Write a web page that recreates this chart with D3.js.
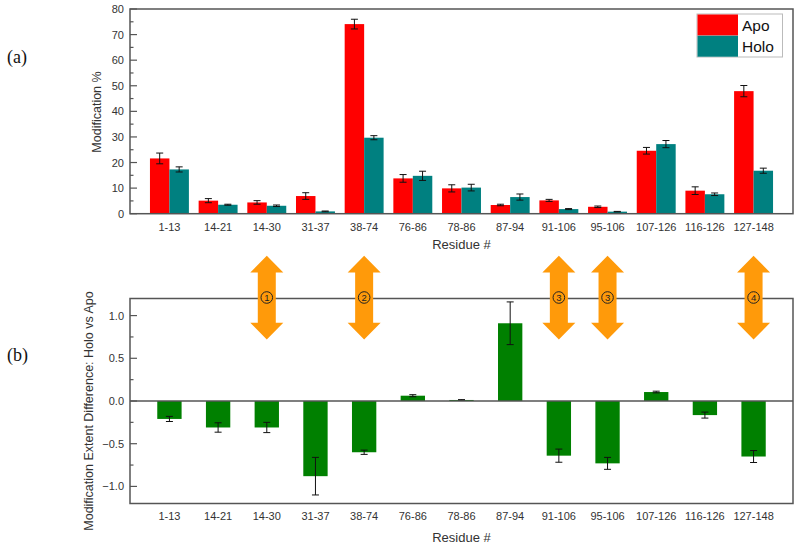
<!DOCTYPE html>
<html>
<head>
<meta charset="utf-8">
<script src="https://cdn.jsdelivr.net/npm/d3@7"></script>
<style>
  body { margin: 0; background: #fff; }
  text { font-family: "Liberation Sans", Arial, sans-serif; }
  text.panel { font-family: "Liberation Serif", "Times New Roman", serif; }
</style>
</head>
<body>
<div id="chart"></div>
<script>
// Residue ranges along both x axes
const residues = ["1-13", "14-21", "14-30", "31-37", "38-74", "76-86", "78-86",
  "87-94", "91-106", "95-106", "107-126", "116-126", "127-148"];

// (a) modification %
const apo     = [21.6, 5.1, 4.4, 6.9, 74.1, 13.8, 9.9, 3.4, 5.2, 2.7, 24.6, 9.0, 47.9];
const apoErr  = [2.1, 0.8, 0.7, 1.3, 1.9, 1.5, 1.4, 0.3, 0.4, 0.3, 1.3, 1.5, 2.2];
const holo    = [17.3, 3.5, 3.1, 0.9, 29.7, 14.8, 10.2, 6.5, 1.8, 0.8, 27.2, 7.6, 16.8];
const holoErr = [1.0, 0.2, 0.3, 0.15, 0.8, 1.8, 1.3, 1.2, 0.2, 0.1, 1.4, 0.5, 1.0];

// (b) modification extent difference, holo vs apo
const diff    = [-0.21, -0.31, -0.31, -0.88, -0.60, 0.062, 0.012, 0.91, -0.64, -0.73, 0.105, -0.165, -0.65];
const diffErr = [0.03, 0.055, 0.06, 0.22, 0.025, 0.012, 0.004, 0.25, 0.077, 0.07, 0.01, 0.035, 0.07];

// orange markers on panel (b)
const arrowResidues = ["14-30", "38-74", "91-106", "95-106", "127-148"];
const arrowLabels = ["1", "2", "3", "3", "4"];

const width = 800, height = 554;
const frameColor = "#555", tickColor = "#333";

const svg = d3.select("#chart").append("svg")
  .attr("width", width)
  .attr("height", height);

svg.append("rect").attr("width", width).attr("height", height).attr("fill", "#fff");

const x = d3.scaleBand()
  .domain(residues)
  .range([130, 793])
  .paddingInner(0.2)
  .paddingOuter(0.41);

const series = d3.scaleBand()
  .domain(["Apo", "Holo"])
  .range([0, x.bandwidth()]);

const colors = { Apo: "#ff0000", Holo: "#008080" };

// draw frame, inward ticks, and labels for one panel
function drawAxes(y, major, minor, fmt, labelY) {
  const [y0, y1] = y.range();
  svg.append("rect")
    .attr("x", 130).attr("y", y1)
    .attr("width", 793 - 130).attr("height", y0 - y1)
    .attr("fill", "none").attr("stroke", frameColor).attr("stroke-width", 1.5);

  svg.append("g").selectAll("line")
    .data(minor)
    .join("line")
    .attr("x1", 130).attr("x2", 133.5)
    .attr("y1", d => y(d)).attr("y2", d => y(d))
    .attr("stroke", frameColor).attr("stroke-width", 1.2);

  svg.append("g").selectAll("line")
    .data(major)
    .join("line")
    .attr("x1", 130).attr("x2", 137)
    .attr("y1", d => y(d)).attr("y2", d => y(d))
    .attr("stroke", frameColor).attr("stroke-width", 1.2);

  svg.append("g").selectAll("text")
    .data(major)
    .join("text")
    .attr("x", 124)
    .attr("y", d => y(d) + 4)
    .attr("text-anchor", "end")
    .attr("font-size", 11)
    .attr("fill", tickColor)
    .text(fmt);

  svg.append("g").selectAll("text")
    .data(residues)
    .join("text")
    .attr("x", d => x(d) + x.bandwidth() / 2)
    .attr("y", labelY)
    .attr("text-anchor", "middle")
    .attr("font-size", 11)
    .attr("fill", tickColor)
    .text(d => d);
}

// ---------- panel (a) ----------
const yA = d3.scaleLinear().domain([0, 80]).range([213.7, 9]);

const groups = svg.append("g").selectAll("g")
  .data(residues)
  .join("g")
  .attr("transform", d => `translate(${x(d)},0)`);

const barData = (d, i) => [
  { key: "Apo", v: apo[i], e: apoErr[i] },
  { key: "Holo", v: holo[i], e: holoErr[i] }
];

groups.selectAll("rect")
  .data(barData)
  .join("rect")
  .attr("x", d => series(d.key))
  .attr("y", d => yA(d.v))
  .attr("width", series.bandwidth())
  .attr("height", d => yA(0) - yA(d.v))
  .attr("fill", d => colors[d.key]);

groups.selectAll("path.err")
  .data(barData)
  .join("path")
  .attr("class", "err")
  .attr("fill", "none")
  .attr("stroke", "#111")
  .attr("stroke-width", 1)
  .attr("d", d => {
    const cx = series(d.key) + series.bandwidth() / 2;
    const t = yA(d.v + d.e), b = yA(d.v - d.e);
    return `M${cx - 3.5},${t}H${cx + 3.5}M${cx},${t}V${b}M${cx - 3.5},${b}H${cx + 3.5}`;
  });

drawAxes(yA, d3.range(0, 81, 10), d3.range(5, 80, 10), d => d, 230.5);

svg.append("text")
  .attr("transform", `translate(101,112) rotate(-90)`)
  .attr("text-anchor", "middle")
  .attr("font-size", 12.5)
  .attr("fill", tickColor)
  .text("Modification %");

svg.append("text")
  .attr("x", 461.5).attr("y", 249)
  .attr("text-anchor", "middle")
  .attr("font-size", 13)
  .attr("fill", tickColor)
  .text("Residue #");

// legend
const legend = svg.append("g").attr("transform", "translate(697,14)");
legend.append("rect")
  .attr("width", 85.5).attr("height", 43)
  .attr("fill", "#fff").attr("stroke", "#bbb").attr("stroke-width", 1);
["Apo", "Holo"].forEach((k, i) => {
  legend.append("rect")
    .attr("x", 0.5).attr("y", 0.5 + i * 21.2)
    .attr("width", 40.5).attr("height", 21)
    .attr("fill", colors[k]);
  legend.append("text")
    .attr("x", 45).attr("y", 16.5 + i * 21.5)
    .attr("font-size", 15.5)
    .attr("fill", "#111")
    .text(k);
});

// ---------- panel (b) ----------
const yB = d3.scaleLinear().domain([-1.2, 1.2]).range([503.5, 298.5]);
const barW = x.step() * 0.5;
const cxOf = d => x(d) + x.bandwidth() / 2;

svg.append("g").selectAll("rect")
  .data(residues)
  .join("rect")
  .attr("x", d => cxOf(d) - barW / 2)
  .attr("y", (d, i) => yB(Math.max(0, diff[i])))
  .attr("width", barW)
  .attr("height", (d, i) => Math.abs(yB(diff[i]) - yB(0)))
  .attr("fill", "#008000");

svg.append("g").selectAll("path")
  .data(residues)
  .join("path")
  .attr("fill", "none")
  .attr("stroke", "#111")
  .attr("stroke-width", 1)
  .attr("d", (d, i) => {
    const cx = cxOf(d);
    const t = yB(diff[i] + diffErr[i]), b = yB(diff[i] - diffErr[i]);
    return `M${cx - 3.5},${t}H${cx + 3.5}M${cx},${t}V${b}M${cx - 3.5},${b}H${cx + 3.5}`;
  });

drawAxes(yB, [-1, -0.5, 0, 0.5, 1], [-0.75, -0.25, 0.25, 0.75], d3.format(".1f"), 519.5);

// zero line
svg.append("line")
  .attr("x1", 130).attr("x2", 793)
  .attr("y1", yB(0)).attr("y2", yB(0))
  .attr("stroke", frameColor).attr("stroke-width", 1.3);

svg.append("text")
  .attr("transform", `translate(93,411) rotate(-90)`)
  .attr("text-anchor", "middle")
  .attr("font-size", 12.5)
  .attr("fill", tickColor)
  .text("Modification Extent Difference: Holo vs Apo");

svg.append("text")
  .attr("x", 461.5).attr("y", 541.5)
  .attr("text-anchor", "middle")
  .attr("font-size", 13)
  .attr("fill", tickColor)
  .text("Residue #");

// double-headed arrows, top/bottom in data units of panel (b)
const arrowTop = 1.70, arrowBottom = 0.72;
const arrows = svg.append("g").selectAll("g")
  .data(arrowResidues)
  .join("g")
  .attr("transform", d => `translate(${cxOf(d)},0)`);

arrows.append("path")
  .attr("fill", "#ff9a0a")
  .attr("d", () => {
    const t = yB(arrowTop), b = yB(arrowBottom), hw = 16.5, sw = 9, hl = 16.7;
    return `M0,${t}L${hw},${t + hl}H${sw}V${b - hl}H${hw}L0,${b}L${-hw},${b - hl}H${-sw}V${t + hl}H${-hw}Z`;
  });

arrows.append("circle")
  .attr("cy", yB(1.2) - 1)
  .attr("r", 5.8)
  .attr("fill", "none")
  .attr("stroke", "#222")
  .attr("stroke-width", 1);

arrows.append("text")
  .attr("y", yB(1.2) + 2.5)
  .attr("text-anchor", "middle")
  .attr("font-size", 9.5)
  .attr("fill", "#222")
  .text((d, i) => arrowLabels[i]);

// panel letters
svg.append("text")
  .attr("class", "panel")
  .attr("x", 7).attr("y", 63)
  .attr("font-size", 18)
  .attr("fill", "#111")
  .text("(a)");

svg.append("text")
  .attr("class", "panel")
  .attr("x", 7).attr("y", 361)
  .attr("font-size", 18)
  .attr("fill", "#111")
  .text("(b)");
</script>
</body>
</html>
